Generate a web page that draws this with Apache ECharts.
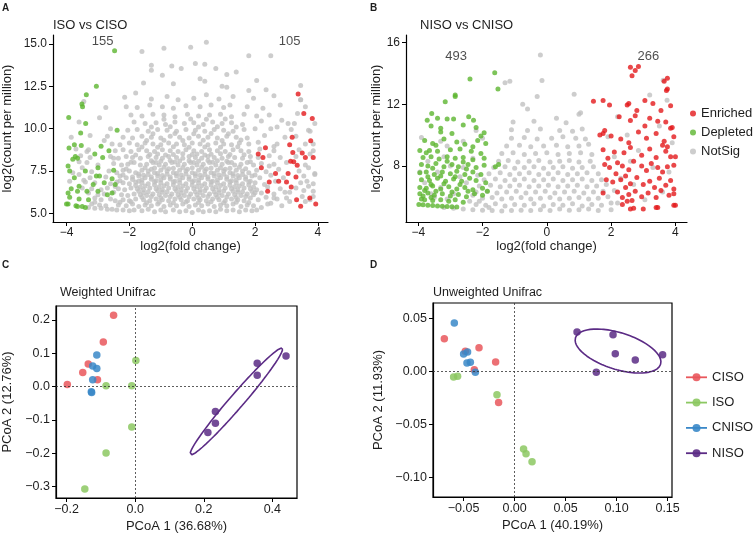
<!DOCTYPE html>
<html>
<head>
<meta charset="utf-8">
<script src="https://cdn.jsdelivr.net/npm/echarts@6/dist/echarts.min.js"></script>
<style>
  html, body { margin: 0; padding: 0; background: #fff; }
  #main { width: 755px; height: 538px; }
</style>
</head>
<body>
<div id="main"></div>
<script>
// ---------- data ----------
// panel A: ISO vs CISO  (log2 fold change, log2 cpm)
var aDepleted = [
  -2.47,14.6, -3.05,12.5, -3.37,12.0, -3.51,11.45, -3.49,11.3, -3.93,10.66, -3.39,10.3, -3.55,9.75,
  -2.39,9.9, -3.92,8.86, -3.75,9.05, -3.53,9.0, -2.9,8.96, -2.65,8.7, -3.72,8.35, -3.8,8.2,
  -3.65,8.25, -2.85,8.3, -3.1,8.5, -3.95,7.8, -3.9,7.5, -3.0,7.7, -3.4,7.5, -3.75,7.1,
  -3.05,7.2, -2.95,7.2, -2.5,7.55, -3.15,6.7, -3.6,6.6, -2.55,7.05, -2.8,6.8, -2.45,6.7,
  -3.95,6.2, -3.85,6.45, -3.65,6.3, -3.35,6.3, -2.55,6.2, -3.0,6.3, -3.9,5.95, -3.6,5.85,
  -3.3,5.8, -4.0,5.55, -3.95,5.55, -3.7,5.45, -3.65,5.4, -3.5,5.4, -3.4,5.35, -2.7,6.1
];
var aEnriched = [
  3.37,12.05, 3.55,10.9, 3.82,10.6, 3.18,9.5, 3.77,9.28, 2.33,8.87, 3.1,9.05, 3.5,8.57,
  3.85,8.3, 2.25,8.3, 3.13,8.08, 3.23,8.04, 3.6,8.3, 3.34,7.84, 2.2,7.7, 3.05,7.35,
  3.3,7.15, 3.0,6.85, 3.15,6.55, 2.4,6.3, 3.32,5.8, 3.74,5.9, 3.93,5.55, 3.45,5.42,
  2.1,8.5, 2.65,7.35, 2.75,6.9, 3.2,8.6, 2.45,6.85
];
var aNotSig = [
  // floor
  -3.3,5.35, -3.1,5.3, -2.9,5.3, -2.7,5.25, -2.55,5.25, -2.4,5.2, -2.2,5.2, -2.0,5.15, -1.85,5.2,
  -1.6,5.15, -1.4,5.25, -1.2,5.1, -1.0,5.2, -0.85,5.1, -0.6,5.2, -0.4,5.1, -0.2,5.15, 0.0,5.05,
  0.2,5.2, 0.35,5.1, 0.55,5.15, 0.75,5.1, 0.9,5.25, 1.1,5.15, 1.3,5.2, 1.5,5.1, 1.7,5.2, 1.9,5.15,
  2.05,5.2, 2.2,5.35,
  -3.2,5.55, -2.95,5.5, -2.75,5.45, -2.35,5.5, -2.1,5.45, -1.9,5.55, -1.7,5.4, -1.5,5.5, -1.3,5.45,
  -1.1,5.55, -0.9,5.4, -0.7,5.5, -0.5,5.45, -0.3,5.55, -0.1,5.4, 0.1,5.5, 0.3,5.45, 0.5,5.55,
  0.7,5.4, 0.9,5.5, 1.1,5.45, 1.3,5.55, 1.55,5.4, 1.75,5.5, 1.95,5.45, 2.5,5.6, 3.0,5.9, 3.6,5.7,
  -3.1,5.9, -2.9,5.8, -2.6,5.85, -2.45,5.75, -2.2,5.8, -2.0,5.75, -1.8,5.85, -1.55,5.8, -1.35,5.75,
  -1.15,5.85, -0.95,5.8, -0.75,5.75, -0.55,5.85, -0.35,5.8, -0.15,5.75, 0.05,5.85, 0.25,5.8,
  0.45,5.75, 0.65,5.85, 0.85,5.8, 1.05,5.75, 1.25,5.85, 1.45,5.8, 1.65,5.75, 1.85,5.9, 2.1,5.8,
  2.35,5.95, 2.7,5.85, 3.5,6.0, 3.75,5.8,
  -3.3,6.2, -3.0,6.1, -2.8,6.15, -2.25,6.1, -2.05,6.05, -1.85,6.15, -1.65,6.1, -1.45,6.05, -1.25,6.15,
  -1.05,6.1, -0.85,6.05, -0.65,6.15, -0.45,6.1, -0.25,6.05, -0.05,6.15, 0.15,6.1, 0.35,6.05,
  0.55,6.15, 0.75,6.1, 0.95,6.05, 1.15,6.15, 1.35,6.1, 1.55,6.05, 1.75,6.15, 1.95,6.1, 2.2,6.2,
  2.6,6.15, 3.1,6.25, 3.85,6.3,
  -3.5,6.5, -3.2,6.45, -2.9,6.4, -2.7,6.5, -2.35,6.45, -2.15,6.4, -1.95,6.5, -1.75,6.45, -1.55,6.4,
  -1.35,6.5, -1.15,6.45, -0.95,6.4, -0.75,6.5, -0.55,6.45, -0.35,6.4, -0.15,6.5, 0.05,6.45,
  0.25,6.4, 0.45,6.5, 0.65,6.45, 0.85,6.4, 1.05,6.5, 1.25,6.45, 1.45,6.4, 1.65,6.5, 1.85,6.45,
  2.05,6.4, 2.4,6.55, 2.8,6.45, 3.3,6.5, 3.7,6.6,
  -3.4,6.85, -3.1,6.8, -2.6,6.75, -2.4,6.85, -2.2,6.8, -2.0,6.75, -1.8,6.85, -1.6,6.8, -1.4,6.75,
  -1.2,6.85, -1.0,6.8, -0.8,6.75, -0.6,6.85, -0.4,6.8, -0.2,6.75, 0.0,6.85, 0.2,6.8, 0.4,6.75,
  0.6,6.85, 0.8,6.8, 1.0,6.75, 1.2,6.85, 1.4,6.8, 1.6,6.75, 1.8,6.85, 2.0,6.8, 2.3,6.7, 2.65,6.9,
  3.45,6.8, 3.85,6.75,
  -3.6,7.3, -3.25,7.1, -2.75,7.15, -2.3,7.2, -2.1,7.1, -1.9,7.15, -1.7,7.2, -1.5,7.1, -1.3,7.15,
  -1.1,7.2, -0.9,7.1, -0.7,7.15, -0.5,7.2, -0.3,7.1, -0.1,7.15, 0.1,7.2, 0.3,7.1, 0.5,7.15,
  0.7,7.2, 0.9,7.1, 1.1,7.15, 1.3,7.2, 1.5,7.1, 1.7,7.15, 1.9,7.2, 2.15,7.1, 2.5,7.25, 2.9,7.1,
  3.55,7.2, 3.9,7.35,
  -3.5,7.7, -3.2,7.45, -2.65,7.5, -2.4,7.4, -2.2,7.55, -2.0,7.5, -1.8,7.4, -1.6,7.55, -1.4,7.5,
  -1.2,7.4, -1.0,7.55, -0.8,7.5, -0.6,7.4, -0.4,7.55, -0.2,7.5, 0.0,7.4, 0.2,7.55, 0.4,7.5,
  0.6,7.4, 0.8,7.55, 1.0,7.5, 1.2,7.4, 1.4,7.55, 1.6,7.5, 1.8,7.4, 2.05,7.55, 2.35,7.45, 2.75,7.6,
  3.4,7.5, 3.7,7.7,
  -3.35,8.0, -3.0,7.85, -2.5,7.95, -2.25,7.85, -2.05,7.9, -1.85,8.0, -1.65,7.85, -1.45,7.9,
  -1.25,8.0, -1.05,7.85, -0.85,7.9, -0.65,8.0, -0.45,7.85, -0.25,7.9, -0.05,8.0, 0.15,7.85,
  0.35,7.9, 0.55,8.0, 0.75,7.85, 0.95,7.9, 1.15,8.0, 1.35,7.85, 1.55,7.9, 1.75,8.0, 1.95,7.85,
  2.2,7.95, 2.6,7.9, 3.0,8.0, 3.6,7.85,
  -3.55,8.4, -3.25,8.3, -2.6,8.35, -2.35,8.25, -2.1,8.35, -1.9,8.3, -1.65,8.25, -1.4,8.35, -1.15,8.3,
  -0.95,8.25, -0.75,8.35, -0.5,8.3, -0.3,8.25, -0.1,8.35, 0.1,8.3, 0.3,8.25, 0.5,8.35, 0.7,8.3,
  0.95,8.25, 1.15,8.35, 1.35,8.3, 1.6,8.25, 1.85,8.35, 2.1,8.3, 2.45,8.4, 2.8,8.3, 3.3,8.35, 3.75,8.5,
  -3.7,8.8, -3.35,8.65, -2.45,8.7, -2.2,8.75, -1.95,8.65, -1.7,8.75, -1.45,8.7, -1.2,8.65,
  -0.95,8.75, -0.7,8.7, -0.45,8.65, -0.2,8.75, 0.05,8.7, 0.3,8.65, 0.55,8.75, 0.8,8.7, 1.05,8.65,
  1.3,8.75, 1.55,8.7, 1.8,8.65, 2.15,8.8, 2.6,8.7, 3.4,8.75,
  -2.55,9.1, -2.3,9.05, -2.0,9.15, -1.75,9.05, -1.5,9.15, -1.25,9.1, -1.0,9.05, -0.75,9.15, -0.5,9.1,
  -0.25,9.05, 0.0,9.15, 0.25,9.1, 0.5,9.05, 0.75,9.15, 1.0,9.1, 1.25,9.05, 1.5,9.15, 1.8,9.1,
  2.1,9.2, 2.7,9.1, 3.85,9.1,
  -2.2,9.5, -1.9,9.45, -1.6,9.55, -1.3,9.5, -1.0,9.45, -0.7,9.55, -0.4,9.5, -0.1,9.45, 0.2,9.55,
  0.5,9.5, 0.8,9.45, 1.1,9.55, 1.4,9.5, 1.75,9.45, 2.3,9.6, 3.3,9.55, 3.7,9.9,
  -2.05,9.9, -1.75,9.95, -1.4,9.85, -1.1,9.95, -0.8,9.9, -0.5,9.85, -0.2,9.95, 0.1,9.9, 0.4,9.85,
  0.7,9.95, 1.0,9.9, 1.3,9.85, 1.65,9.95, 2.0,10.0, 2.7,10.1, 3.15,9.95,
  -1.85,10.4, -1.5,10.3, -1.15,10.35, -0.85,10.25, -0.55,10.4, -0.25,10.3, 0.05,10.35, 0.35,10.25,
  0.65,10.4, 0.95,10.3, 1.25,10.35, 1.6,10.25, 2.2,10.45, 2.85,10.5, 3.25,10.3,
  -1.95,10.8, -1.6,10.75, -1.25,10.85, -0.9,10.8, -0.55,10.7, -0.15,10.85, 0.2,10.75, 0.55,10.8,
  0.9,10.85, 1.25,10.7, 1.65,10.85, 2.05,10.75, 2.45,10.8, 3.35,10.9,
  -2.1,11.3, -1.75,11.25, -1.35,11.4, -0.95,11.3, -0.6,11.2, -0.2,11.35, 0.25,11.3, 0.6,11.4,
  1.0,11.25, 1.2,11.4, 1.75,11.3, 2.25,11.2, 2.8,11.4, 3.45,11.7,
  -2.15,11.85, -1.8,12.1, -1.3,11.75, -0.8,11.9, -0.45,11.7, 0.05,11.8, 0.45,12.0, 0.85,11.75,
  1.3,11.9, 1.95,11.8, 2.6,11.95,
  -1.55,12.7, -0.6,12.65, 0.25,12.95, 0.4,12.8, 0.95,12.5, 1.1,12.45, 1.8,12.25, 2.35,12.3,
  2.05,12.85, 3.45,12.55, -1.3,13.75, -1.3,13.45, -0.65,13.7, -0.35,13.55, 0.1,13.85, 0.4,13.8,
  0.75,13.55, 1.1,13.2, 1.4,13.35, -0.95,13.15, -1.6,14.55, -0.9,14.75, -0.05,14.8, 0.45,15.1,
  1.8,14.3, 2.5,14.3,
  // dense core
  -1.6,5.95, -1.3,6.0, -1.0,5.92, -0.7,6.0, -0.4,5.95, -0.1,5.98, 0.2,5.92, 0.5,6.0, 0.8,5.95,
  1.1,5.97, 1.4,5.93, 1.7,6.0,
  -1.7,6.3, -1.4,6.28, -1.1,6.33, -0.8,6.27, -0.5,6.32, -0.2,6.3, 0.1,6.27, 0.4,6.33, 0.7,6.28,
  1.0,6.32, 1.3,6.3, 1.6,6.27, 1.9,6.3,
  -1.8,6.65, -1.5,6.62, -1.2,6.68, -0.9,6.63, -0.6,6.67, -0.3,6.62, 0.0,6.66, 0.3,6.63, 0.6,6.68,
  0.9,6.64, 1.2,6.66, 1.5,6.62, 1.8,6.67,
  -1.9,7.0, -1.6,6.97, -1.3,7.02, -1.0,6.98, -0.7,7.03, -0.4,6.98, -0.1,7.02, 0.2,6.97, 0.5,7.03,
  0.8,6.99, 1.1,7.01, 1.4,6.97, 1.7,7.02,
  -1.7,7.33, -1.4,7.3, -1.1,7.35, -0.8,7.31, -0.5,7.36, -0.2,7.32, 0.1,7.34, 0.4,7.3, 0.7,7.35,
  1.0,7.31, 1.3,7.34, 1.6,7.3,
  -1.5,7.7, -1.2,7.68, -0.9,7.72, -0.6,7.67, -0.3,7.71, 0.0,7.69, 0.3,7.72, 0.6,7.68, 0.9,7.7,
  1.2,7.67, 1.5,7.72,
  -1.3,8.1, -1.0,8.08, -0.7,8.12, -0.4,8.09, -0.1,8.11, 0.2,8.08, 0.5,8.12, 0.8,8.1, 1.1,8.08,
  -1.1,8.5, -0.6,8.48, -0.3,8.52, 0.15,8.5, 0.6,8.49, 0.9,8.52,
  -2.3,5.65, -1.95,5.68, -1.45,5.62, -1.05,5.66, -0.6,5.63, -0.2,5.67, 0.2,5.64, 0.6,5.68,
  1.0,5.62, 1.4,5.66, 1.8,5.64,
  -2.5,6.25, -1.55,6.22, -0.95,6.24, -0.35,6.2, 0.25,6.23, 0.85,6.21, 1.45,6.24, 2.0,6.22,
  -2.45,6.58, -1.65,6.55, -1.05,6.57, -0.45,6.56, 0.15,6.58, 0.75,6.55, 1.35,6.57, 1.95,6.56,
  -2.3,6.92, -1.7,6.9, -1.15,6.93, -0.55,6.9, 0.05,6.92, 0.65,6.9, 1.25,6.93, 1.85,6.9,
  -2.2,7.27, -1.55,7.25, -0.95,7.24, -0.35,7.26, 0.25,7.25, 0.85,7.27, 1.45,7.24, 2.0,7.26,
  -2.1,7.62, -1.3,7.6, -0.75,7.63, -0.15,7.6, 0.45,7.62, 1.05,7.61, 1.7,7.63,
  -1.95,8.02, -1.15,8.0, -0.55,8.03, 0.05,8.0, 0.65,8.02, 1.25,8.0, 1.85,8.05,
  -1.8,8.45, -1.35,8.48, -0.85,8.45, 0.0,8.47, 0.4,8.45, 1.2,8.48, 1.65,8.46,
  -1.6,8.92, -1.1,8.9, -0.6,8.93, -0.1,8.9, 0.4,8.92, 0.9,8.9, 1.45,8.93,
  -1.45,9.3, -0.9,9.32, -0.3,9.3, 0.35,9.32, 0.95,9.3, 1.55,9.33,
  -1.25,9.7, -0.55,9.72, 0.05,9.7, 0.6,9.72, 1.15,9.7,
  -1.3,10.1, -0.7,10.12, 0.2,10.1, 0.8,10.12, 1.4,10.1,
  -0.9,10.55, -0.05,10.57, 0.45,10.55, 1.05,10.57,
  // among the coloured points
  -3.8,7.4, -3.45,6.95, -3.6,8.05, -3.3,8.75, -3.85,9.5, -3.6,10.4, -3.45,11.6, -2.75,11.25,
  -2.95,10.65, -3.25,9.6, -2.7,9.55, -2.6,10.0, -3.9,6.9, -3.1,5.65, -2.5,8.25, -2.8,9.3,
  3.45,11.7, 3.6,11.3, 3.9,10.3, 3.75,9.85, 2.5,10.0, 3.05,10.3, 2.95,9.5, 3.6,9.1, 2.6,8.95,
  3.85,8.7, 2.45,7.8, 3.9,7.3, 3.65,6.9, 2.95,6.25, 3.55,6.35, 3.85,6.0, 2.6,5.9, 3.1,5.7,
  2.85,5.45, 2.4,5.55
];
var aCounts = [155, 105];

// panel B: NISO vs CNISO
var bDepleted = [
  -2.39,13.64, -1.62,14.05, -1.52,13.0, -3.16,12.16, -2.85,12.6, -2.85,12.5,
  -3.58,11.4, -3.72,10.97, -3.4,11.1, -3.1,11.05, -2.9,11.05, -2.43,11.2, -2.28,10.97, -3.6,10.6,
  -3.3,10.45, -2.95,10.1, -2.6,10.65, -2.2,10.5, -1.95,10.15,
  -3.8,9.65, -3.55,9.45, -3.45,9.35, -3.2,9.75, -2.8,9.55, -2.55,9.4, -2.15,9.65, -1.9,9.45,
  -3.95,9.0, -3.65,9.0, -3.4,8.95, -3.0,9.05, -2.7,9.1, -2.35,8.95, -2.05,8.8,
  -3.85,8.55, -3.6,8.6, -3.35,8.45, -3.1,8.6, -2.85,8.5, -2.6,8.55, -2.3,8.4, -1.95,8.5, -1.6,7.95,
  -3.9,8.1, -3.7,8.0, -3.45,8.15, -3.2,7.95, -2.95,8.1, -2.75,7.95, -2.45,8.1, -2.2,7.9, -1.95,8.05,
  -1.5,8.1,
  -3.95,7.55, -3.75,7.6, -3.5,7.45, -3.25,7.6, -3.0,7.5, -2.8,7.65, -2.55,7.45, -2.3,7.6, -2.05,7.45,
  -3.9,7.1, -3.65,7.05, -3.4,7.2, -3.15,7.0, -2.9,7.15, -2.65,7.0, -2.4,7.2, -2.2,7.05, -1.9,6.9,
  -3.95,6.6, -3.75,6.55, -3.55,6.7, -3.3,6.5, -3.05,6.65, -2.8,6.5, -2.55,6.6, -2.3,6.45, -2.0,6.55,
  -1.85,6.35,
  -3.95,6.2, -3.85,6.05, -3.7,6.25, -3.5,6.1, -3.25,6.2, -3.0,6.05, -2.75,6.15, -2.5,6.0, -2.25,6.2,
  -2.0,6.1, -3.6,5.95, -3.9,5.85,
  -3.8,5.8, -3.55,5.75, -3.3,5.8, -3.05,5.7, -2.85,5.8, -2.6,5.65,
  -3.98,5.5, -3.85,5.48, -3.7,5.45, -3.55,5.43, -3.4,5.4, -3.25,5.38, -3.1,5.36, -2.95,5.35, -2.8,5.33,
  -3.8,6.4, -3.6,6.8, -3.45,6.35, -3.2,6.85, -2.95,6.3, -2.7,6.8, -2.45,6.35, -3.7,7.3, -3.3,7.35,
  -2.85,7.3, -2.5,7.8, -3.55,7.85, -3.1,8.3, -2.6,8.25, -3.75,8.85, -2.3,9.25, -3.3,10.2, -2.05,9.95
];
var bEnriched = [
  2.6,14.4, 2.85,14.45, 2.75,14.2, 2.65,13.85, 3.75,13.7, 3.65,13.5, 3.75,13.0, 3.72,12.9,
  1.45,12.2, 1.75,12.25, 1.95,11.95, 2.5,11.95, 2.55,12.05, 2.8,11.6, 3.05,12.25, 3.3,12.05,
  3.55,11.6, 3.85,11.9,
  2.25,11.2, 2.75,11.25, 3.2,11.1, 3.45,10.9, 3.7,10.85, 3.9,10.5, 3.85,10.45, 2.6,10.95, 3.05,10.6,
  1.8,10.3, 1.75,10.1, 1.65,10.0, 2.0,9.95, 2.3,9.75, 2.55,9.5, 2.85,10.2, 3.1,9.8, 3.4,10.1,
  3.6,9.35, 3.65,9.6, 3.75,9.25, 3.95,9.9,
  1.75,9.05, 2.1,8.9, 2.6,9.2, 2.95,8.7, 3.2,9.1, 3.4,8.55, 3.7,8.95, 3.85,8.6, 4.0,8.6, 1.9,8.5,
  2.4,8.85,
  1.8,8.1, 1.95,7.9, 2.2,8.2, 2.35,8.0, 2.55,7.75, 2.7,8.3, 2.95,8.0, 3.1,7.7, 3.25,8.15, 3.45,7.9,
  3.6,7.6, 3.75,7.95, 3.95,8.05, 2.15,7.5, 2.45,7.35,
  1.85,7.1, 2.05,6.95, 2.3,7.1, 2.6,6.85, 2.8,7.25, 3.0,6.8, 3.2,7.0, 3.35,6.6, 3.5,7.2, 3.7,6.75,
  3.85,7.05, 3.95,6.5, 2.45,6.6,
  1.75,6.25, 2.2,6.3, 2.35,5.95, 2.55,6.15, 2.75,6.35, 2.95,6.0, 3.15,6.25, 3.4,5.95, 3.55,6.4,
  3.8,6.1, 3.95,6.2, 2.65,5.75,
  2.35,5.5, 2.6,5.2, 2.7,5.25, 3.0,5.2, 3.4,5.3, 3.45,5.3, 3.95,5.45, 4.0,5.45, 2.5,5.7
];
var bNotSig = [
  -3.2,5.3, -2.9,5.25, -2.6,5.2, -2.3,5.15, -2.0,5.12, -1.7,5.1, -1.4,5.08, -1.1,5.1, -0.8,5.12,
  -0.5,5.1, -0.2,5.15, 0.1,5.1, 0.4,5.2, 0.7,5.12, 1.0,5.15, 1.3,5.2, 1.6,5.1, 2.0,5.15,
  -2.2,5.5, -1.9,5.45, -1.6,5.55, -1.3,5.4, -1.0,5.5, -0.7,5.45, -0.4,5.55, -0.1,5.4, 0.2,5.5,
  0.5,5.45, 0.8,5.55, 1.1,5.4, 1.4,5.5, 1.7,5.45, 2.0,5.6,
  -2.0,5.9, -1.7,5.95, -1.4,5.85, -1.1,5.9, -0.8,5.95, -0.5,5.85, -0.2,5.9, 0.1,5.95, 0.4,5.85,
  0.7,5.9, 1.0,5.95, 1.3,5.85, 1.6,5.9, 1.9,6.0,
  -2.2,6.3, -1.85,6.35, -1.55,6.25, -1.25,6.3, -0.95,6.35, -0.65,6.25, -0.35,6.3, -0.05,6.35,
  0.25,6.25, 0.55,6.3, 0.85,6.35, 1.15,6.25, 1.45,6.3, 1.75,6.35, 2.1,6.4,
  -2.1,6.7, -1.75,6.75, -1.45,6.65, -1.15,6.7, -0.85,6.75, -0.55,6.65, -0.25,6.7, 0.05,6.75,
  0.35,6.65, 0.65,6.7, 0.95,6.75, 1.25,6.65, 1.55,6.7, 1.85,6.8,
  -1.95,7.1, -1.6,7.15, -1.3,7.05, -1.0,7.1, -0.7,7.15, -0.4,7.05, -0.1,7.1, 0.2,7.15, 0.5,7.05,
  0.8,7.1, 1.1,7.15, 1.4,7.05, 1.7,7.1,
  -1.8,7.5, -1.45,7.55, -1.15,7.45, -0.85,7.5, -0.55,7.55, -0.25,7.45, 0.05,7.5, 0.35,7.55,
  0.65,7.45, 0.95,7.5, 1.25,7.55, 1.6,7.5,
  -1.65,7.9, -1.3,7.95, -1.0,7.85, -0.7,7.9, -0.4,7.95, -0.1,7.85, 0.2,7.9, 0.5,7.95, 0.8,7.85,
  1.1,7.9, 1.45,7.95,
  -1.5,8.3, -1.2,8.35, -0.9,8.25, -0.55,8.3, -0.25,8.35, 0.1,8.25, 0.4,8.3, 0.7,8.35, 1.0,8.25, 1.35,8.3,
  -1.4,8.8, -1.05,8.85, -0.7,8.75, -0.35,8.8, 0.0,8.85, 0.35,8.75, 0.7,8.8, 1.05,8.85, 1.4,8.75,
  -1.25,9.3, -0.85,9.35, -0.5,9.25, -0.1,9.3, 0.3,9.35, 0.65,9.25, 1.0,9.3, 1.3,9.4,
  -1.1,9.8, -0.7,9.85, -0.3,9.75, 0.15,9.8, 0.5,9.9, 0.9,9.8, 1.2,9.75,
  -1.1,10.35, -0.6,10.3, -0.2,10.4, 0.4,10.3, 0.8,10.25, 1.1,10.4,
  -1.05,10.85, -0.4,10.9, 0.6,10.8, 0.3,11.1, 1.0,11.35, 1.05,11.45, -0.75,12.0, -0.6,11.7,
  -1.3,13.4, -1.15,13.5, -0.2,15.2, -0.15,13.55, 0.85,12.65, -0.3,12.5,
  -3.9,9.85, -3.3,9.6, -3.1,9.3, -2.6,9.6, -2.2,10.3, -2.0,9.8, -3.7,8.3, -3.4,7.6, -3.0,8.0,
  -2.7,7.3, -3.8,6.9, -3.3,6.6, -2.9,6.2, -2.5,6.9, -3.6,6.2, -3.1,5.85, -2.4,5.7, -2.6,7.9,
  -2.3,8.5, -3.2,8.6, -3.95,7.6, -3.5,5.95, -2.15,7.4, -2.3,6.1, -2.1,5.7, -1.8,5.3,
  2.2,11.2, 2.5,10.0, 2.85,9.0, 3.2,12.6, 3.62,13.57, 3.74,12.27, 3.5,10.6, 3.9,9.5, 2.1,8.6,
  3.3,7.9, 2.7,6.8, 3.6,6.3, 2.3,7.2, 1.9,9.9, 3.05,5.8, 2.2,5.6, 3.8,7.6, 2.6,8.3
];
var bCounts = [493, 266];
var volcanoLegend = ['Enriched', 'Depleted', 'NotSig'];

// panel C: weighted unifrac PCoA
var cCISO  = [-0.063,0.214, -0.093,0.134, -0.137,0.068, -0.153,0.042, -0.198,0.006, -0.110,0.020];
var cISO   = [0.002,0.078, -0.085,0.002, -0.010,0.002, -0.010,-0.122, -0.085,-0.200, -0.147,-0.308];
var cCNISO = [-0.112,0.095, -0.124,0.062, -0.112,0.054, -0.124,0.020, -0.128,-0.016, -0.127,-0.018];
var cNISO  = [0.440,0.092, 0.356,0.070, 0.356,0.034, 0.234,-0.075, 0.234,-0.110, 0.212,-0.138];
// ellipse around NISO: centre, half major axis, half minor axis (data units)
var cEllipse = [0.295,-0.045, 0.134,0.160, 0.0156,-0.0137];

// panel D: unweighted unifrac PCoA
var dCISO  = [-0.0689,0.0311, -0.0483,0.0192, -0.0349,0.0226, -0.0186,0.0091, -0.0395,0.0019, -0.0157,-0.029];
var dISO   = [-0.0598,-0.005, -0.0559,-0.0044, -0.0173,-0.0217, 0.0088,-0.0729, 0.0112,-0.0774, 0.0171,-0.0849];
var dCNISO = [-0.0591,0.0459, -0.050,0.0167, -0.0461,0.0186, -0.0467,0.0082, -0.0434,0.0088, -0.0385,-0.0006];
var dNISO  = [0.0612,0.0374, 0.0965,0.0349, 0.0987,0.0170, 0.1183,0.0110, 0.1451,0.0160, 0.0801,-0.0006];
var dEllipse = [0.1014,0.0195, 0.0417,-0.01258, -0.0054,-0.0165];

var groups = ['CISO', 'ISO', 'CNISO', 'NISO'];

// tick values
var volcanoXTicks = [-4, -2, 0, 2, 4];
var aYTicks = [5, 7.5, 10, 12.5, 15];
var bYTicks = [8, 12, 16];
var cXTicks = [-0.2, 0, 0.2, 0.4];
var cYTicks = [-0.3, -0.2, -0.1, 0, 0.1, 0.2];
var dXTicks = [-0.05, 0, 0.05, 0.1, 0.15];
var dYTicks = [-0.1, -0.05, 0, 0.05];

// ---------- style ----------
var FONT = '"Liberation Sans", Arial, Helvetica, sans-serif';
var RED = '#e3191c', GREEN = '#5db530', GREY = '#c0c0c0';
var groupColors = ['#e9575c', '#8cc862', '#3a88c8', '#5b2b85'];
var TXT = '#1e1e1e';

function pairs(a) {
  var out = [];
  for (var i = 0; i < a.length; i += 2) out.push([a[i], a[i + 1]]);
  return out;
}
function fmt(dec) {
  return function (v) { return v.toFixed(dec).replace('-', '\u2212'); };
}
// points of an ellipse: centre + u*cos t + v*sin t
function ellipse(e) {
  var pts = [];
  for (var i = 0; i <= 120; i++) {
    var t = i / 120 * Math.PI * 2;
    pts.push([e[0] + e[2] * Math.cos(t) + e[4] * Math.sin(t),
              e[1] + e[3] * Math.cos(t) + e[5] * Math.sin(t)]);
  }
  return pts;
}

function valAxis(idx, min, max, ticks, dec, name, gap, labelSize, isY) {
  return {
    type: 'value', gridIndex: idx, min: min, max: max,
    name: name, nameLocation: 'middle', nameGap: gap,
    nameTextStyle: { fontSize: 13, color: TXT, fontFamily: FONT },
    axisLine: { show: true, onZero: false, lineStyle: { color: '#000', width: 1.2 } },
    axisTick: { show: true, length: 4, customValues: ticks, lineStyle: { color: '#000', width: 1 } },
    axisLabel: { fontSize: labelSize, color: TXT, fontFamily: FONT, margin: isY ? 6 : 5,
                 customValues: ticks, formatter: fmt(dec) },
    splitLine: { show: false }
  };
}

var chart = echarts.init(document.getElementById('main'));

var series = [];
function volcano(idx, notSig, dep, enr) {
  [['NotSig', notSig, GREY], ['Depleted', dep, GREEN], ['Enriched', enr, RED]].forEach(function (s) {
    series.push({ type: 'scatter', name: s[0], xAxisIndex: idx, yAxisIndex: idx, data: pairs(s[1]),
                  symbolSize: 5, itemStyle: { color: s[2] }, silent: true });
  });
}
volcano(0, aNotSig, aDepleted, aEnriched);
volcano(1, bNotSig, bDepleted, bEnriched);

function counts(idx, pos, vals) {
  series.push({ type: 'scatter', xAxisIndex: idx, yAxisIndex: idx, data: pos, symbolSize: 0,
                itemStyle: { color: 'transparent' }, silent: true,
                label: { show: true, position: 'inside', fontSize: 13, color: TXT, fontFamily: FONT,
                         formatter: function (p) { return String(vals[p.dataIndex]); } } });
}
counts(0, [[-2.85, 15.15], [3.1, 15.15]], aCounts);
counts(1, [[-2.82, 15.08], [3.16, 15.08]], bCounts);

function pcoa(idx, sets, ell) {
  series.push({ type: 'line', xAxisIndex: idx, yAxisIndex: idx, data: ellipse(ell), showSymbol: false,
                symbol: 'none', silent: true, lineStyle: { color: groupColors[3], width: 1.6 },
                markLine: { silent: true, symbol: 'none', label: { show: false },
                            lineStyle: { color: '#333', type: [2, 2], width: 0.8 },
                            data: [{ xAxis: 0 }, { yAxis: 0 }] } });
  sets.forEach(function (d, i) {
    series.push({ type: 'scatter', name: groups[i], xAxisIndex: idx, yAxisIndex: idx, data: pairs(d),
                  symbolSize: 7.5, itemStyle: { color: groupColors[i], opacity: 0.85 }, silent: true });
  });
}
pcoa(2, [cCISO, cISO, cCNISO, cNISO], cEllipse);
pcoa(3, [dCISO, dISO, dCNISO, dNISO], dEllipse);

// texts, panel letters and the group legend
var graphic = [];
function txt(x, y, s, size, bold) {
  graphic.push({ type: 'text', x: x, y: y, silent: true,
                 style: { text: s, fill: TXT, font: (bold ? 'bold ' : '') + size + 'px ' + FONT,
                          align: 'left', verticalAlign: 'middle' } });
}
txt(2, 8, 'A', 10, true);
txt(370, 8, 'B', 10, true);
txt(2, 265, 'C', 10, true);
txt(370, 265, 'D', 10, true);
txt(53, 25, 'ISO vs CISO', 13);
txt(420, 25, 'NISO vs CNISO', 13);
txt(60, 293, 'Weighted Unifrac', 12.5);
txt(433, 293, 'Unweighted Unifrac', 12.5);
groups.forEach(function (g, i) {
  var y = 377.3 + i * 25.3;
  graphic.push({ type: 'line', silent: true, shape: { x1: 686, y1: y, x2: 707, y2: y },
                 style: { stroke: groupColors[i], lineWidth: 1.8 } });
  graphic.push({ type: 'circle', silent: true, shape: { cx: 696.5, cy: y, r: 4 },
                 style: { fill: groupColors[i], opacity: 0.9 } });
  txt(712, y, g, 13);
});

chart.setOption({
  animation: false,
  textStyle: { fontFamily: FONT },
  grid: [
    { left: 53, top: 35, width: 275, height: 187, show: false },
    { left: 406, top: 35, width: 281, height: 187, show: false },
    { left: 56, top: 306, width: 241, height: 192, show: true, borderColor: '#000', borderWidth: 1.2 },
    { left: 433, top: 303, width: 239, height: 194, show: true, borderColor: '#000', borderWidth: 1.2 }
  ],
  xAxis: [
    valAxis(0, -4.43, 4.32, volcanoXTicks, 0, 'log2(fold change)', 18, 12, false),
    valAxis(1, -4.38, 4.36, volcanoXTicks, 0, 'log2(fold change)', 18, 12, false),
    valAxis(2, -0.231, 0.472, cXTicks, 1, 'PCoA 1 (36.68%)', 22, 12.5, false),
    valAxis(3, -0.080, 0.1543, dXTicks, 2, 'PCoA 1 (40.19%)', 22, 12.5, false)
  ],
  yAxis: [
    valAxis(0, 4.49, 15.53, aYTicks, 1, 'log2(count per million)', 39, 12, true),
    valAxis(1, 4.36, 16.5, bYTicks, 0, 'log2(count per million)', 22, 12, true),
    valAxis(2, -0.335, 0.242, cYTicks, 1, 'PCoA 2 (12.76%)', 42, 12.5, true),
    valAxis(3, -0.1182, 0.0648, dYTicks, 2, 'PCoA 2 (11.93%)', 48, 12.5, true)
  ],
  legend: {
    data: volcanoLegend, orient: 'vertical', left: 690, top: 107, icon: 'circle',
    itemWidth: 6, itemHeight: 6, itemGap: 6, selectedMode: false, padding: 0,
    textStyle: { fontSize: 13, color: TXT, fontFamily: FONT }
  },
  series: series,
  graphic: graphic
});
</script>
</body>
</html>
